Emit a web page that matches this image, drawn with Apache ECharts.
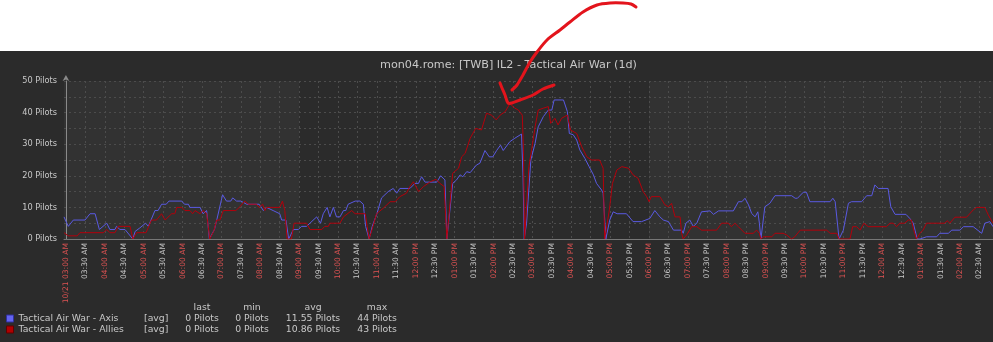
<!DOCTYPE html>
<html><head><meta charset="utf-8">
<script src="https://cdn.jsdelivr.net/npm/echarts@6/dist/echarts.min.js"></script>
<style>html,body{margin:0;padding:0;background:#fff}#c{width:993px;height:342px}</style>
</head><body><div id="c"></div>
<script>
const chartTitle = 'mon04.rome: [TWB] IL2 - Tactical Air War (1d)';
const seriesNames = ['Tactical Air War - Axis', 'Tactical Air War - Allies'];

// hours since 10/21 03:00 AM
const tickHours = [0,0.5,1,1.5,2,2.5,3,3.5,4,4.5,5,5.5,6,6.5,7,7.5,8,8.5,9,9.5,10,10.5,11,11.5,
  12,12.5,13,13.5,14,14.5,15,15.5,16,16.5,17,17.5,18,18.5,19,19.5,20,20.5,21,21.5,22,22.5,23,23.5];
const tickLabels = ['10/21 03:00 AM','03:30 AM','04:00 AM','04:30 AM','05:00 AM','05:30 AM','06:00 AM','06:30 AM',
  '07:00 AM','07:30 AM','08:00 AM','08:30 AM','09:00 AM','09:30 AM','10:00 AM','10:30 AM','11:00 AM','11:30 AM',
  '12:00 PM','12:30 PM','01:00 PM','01:30 PM','02:00 PM','02:30 PM','03:00 PM','03:30 PM','04:00 PM','04:30 PM',
  '05:00 PM','05:30 PM','06:00 PM','06:30 PM','07:00 PM','07:30 PM','08:00 PM','08:30 PM','09:00 PM','09:30 PM',
  '10:00 PM','10:30 PM','11:00 PM','11:30 PM','12:00 AM','12:30 AM','01:00 AM','01:30 AM','02:00 AM','02:30 AM'];
const yTicks = [0, 10, 20, 30, 40, 50];
const timeRange = [-0.05, 23.85];
const nonWorkPeriods = [[-0.05, 6], [15, 23.85]];

const axisTimes = [-0.05,0.06,0.19,0.49,0.62,0.75,0.86,1.05,1.13,1.26,1.3,1.39,1.52,1.72,1.78,1.9,2.05,2.12,2.29,2.37,
  2.46,2.58,2.65,2.98,3.05,3.15,3.19,3.45,3.53,3.62,3.69,3.82,3.88,4.03,4.13,4.24,4.29,4.39,4.5,4.65,4.97,5.08,5.16,
  5.33,5.5,5.55,5.66,5.73,5.85,5.98,6.06,6.19,6.45,6.55,6.62,6.72,6.79,
  6.88,6.96,7.05,7.14,7.2,7.26,7.44,7.56,7.65,7.71,7.8,7.88,8.0,8.12,8.29,8.42,8.51,8.59,8.85,8.98,9.07,9.15,9.24,
  9.54,9.64,9.75,9.8,9.95,10.05,10.14,10.21,10.31,10.4,10.56,10.65,10.78,10.89,10.98,11.08,11.18,11.25,11.42,11.55,
  11.72,11.76,11.79,11.85,11.96,12.07,12.15,12.28,12.41,12.5,12.56,12.8,12.9,12.95,13.05,13.14,13.22,13.35,13.46,
  13.57,13.65,13.78,13.82,13.89,13.99,14.08,14.18,14.42,14.59,14.81,15.02,15.15,15.28,
  15.37,15.5,15.63,15.84,15.88,15.95,16.05,16.14,16.23,16.35,16.57,16.66,16.79,17.17,17.3,17.39,17.47,17.56,17.64,
  17.73,17.8,17.84,17.88,17.98,18.11,18.24,18.67,18.76,18.82,18.97,19.05,19.14,19.66,19.73,19.79,19.89,20.0,20.13,
  20.21,20.47,20.6,20.73,20.81,20.9,21.15,21.22,21.33,21.61,21.71,21.8,21.9,21.97,22.14,22.4,22.48,22.7,22.79,23.0,
  23.09,23.34,23.56,23.64,23.77,23.85];
const axisValues = [7,4,6,6,8,8,3,5,3,3,4,3,3,0,2.4,3.5,5,4,9,9,
  11,11,12,12,11,11,10,10,8,9,0,3,6,14,12,12,13,12,12,11,11,9,10,
  9,8,6,6,0,3,3,4,4,7,5,8,10,7,
  10,7,7,9,9,11,12,12,11,4,0,4,8,13,15,16,14.5,16,16,17.6,17.6,19.7,18,
  18,20,18.7,0,17.6,18.7,20.3,19.7,21.3,21,23.4,24,28,26,26,28,29.7,28,30.8,31.9,
  33.2,19.7,0,5,25,30.3,35.5,38.7,40.8,40.8,44,44,40.3,33.4,33,31.3,28.2,25.5,22.9,
  20.3,17.6,15.5,14.5,0,6,8.6,8,8,5.5,5.5,6.5,9,7,
  6,5.5,2.8,2.8,1.8,5,6,4,5,8.6,8.9,7.8,8.9,8.9,11.8,11.8,12.9,10.8,8.1,
  7,8.6,5,0,10.2,11.3,13.7,13.7,12.9,12.9,14.8,14.8,11.8,11.8,12.9,11.8,0,2.8,11.3,
  11.8,11.8,13.7,13.7,17.1,16,16,10.2,7.8,7.8,6.5,5,0,0,0.7,0.7,1.8,1.8,2.8,2.8,
  3.9,3.9,1.8,5,5.5,3.9];

const alliesTimes = [-0.05,0.06,0.29,0.36,0.96,1.05,1.13,1.26,1.35,1.65,1.72,1.82,2.06,2.2,2.33,2.46,2.55,2.72,2.8,2.85,
  2.98,3.06,3.19,3.26,3.32,3.45,3.53,3.62,3.7,3.8,3.88,3.96,4.05,4.37,4.46,4.6,4.69,4.9,4.97,5.06,5.12,5.16,5.5,5.57,
  5.63,5.69,5.8,5.87,6.19,6.28,6.58,6.66,6.75,6.79,
  7.05,7.14,7.35,7.44,7.7,7.75,7.8,7.9,7.99,8.16,8.34,8.47,8.59,8.76,8.85,8.94,9.07,9.2,9.37,9.52,9.62,9.73,9.8,
  9.95,10.1,10.18,10.27,10.4,10.54,10.69,10.82,10.95,11.07,11.17,11.3,11.42,11.55,11.64,11.74,11.77,11.8,11.91,
  11.98,12.07,12.15,12.28,12.41,12.47,12.58,12.66,12.75,12.9,12.98,13.14,13.27,13.4,13.52,13.73,13.82,13.86,13.98,
  14.06,14.17,14.3,14.47,14.59,14.72,14.85,14.94,15.0,15.06,15.28,
  15.41,15.5,15.58,15.67,15.8,15.84,15.88,15.97,16.1,16.23,16.35,16.74,16.87,17.04,17.12,17.21,17.3,17.47,17.68,
  17.77,17.84,17.88,17.94,18.16,18.24,18.45,18.54,18.67,18.75,18.89,19.57,19.66,19.83,19.89,20.17,20.24,20.34,20.43,
  20.53,20.64,21.11,21.2,21.28,21.37,21.45,21.58,21.67,21.75,21.81,21.88,21.97,22.05,22.14,22.61,22.67,22.74,22.87,
  23.17,23.34,23.43,23.64,23.73,23.85];
const alliesValues = [2,1,1,2,2,3,2,2,4,4,0,2,2,6,6,8,6,8,8,10,
  10,9,9,8,9,8,9,8,0,2.4,6,6,9,9,10,12,11,11,10,11,9,10,10,12,
  9,0,0,5,5,3,3,4,4,5,
  5,7,9,8,8,4,0,4,8,9.7,11.8,11.8,13.4,14.5,16.6,18.1,15,16.6,18.1,18.9,17.6,16.6,0,
  20.8,22.4,26,27.1,31.9,35,34.5,39.8,39.2,37.7,39.2,40.3,42.8,41.4,40.8,39.2,28.2,0,22.9,
  28.2,35.5,40.8,41.4,41.9,36.6,38.2,36.1,38.2,39.2,34.5,33.4,29.2,26,25,25,22.4,0,9.2,
  17.6,21.8,22.9,22.4,20.3,19.2,15,13.4,11.8,13.4,13.4,
  10.8,10.2,11.3,7,7,1.8,0,1.3,3.9,3.9,2.8,2.8,5,5,3.9,5,3.9,1.8,1.8,
  2.8,1.8,0,0.7,0.7,1.8,1.8,1.3,0,0.7,2.8,2.8,1.8,1.8,0,0,3.9,3.9,2.8,
  5,3.9,3.9,5,5,3.9,5,5,6,6,2.8,0,1.8,2.8,5,5,5.8,5,6.9,
  6.9,9.2,10,10,7.6,5];

const statHeaders = ['last', 'min', 'avg', 'max'];
const statFunc = '[avg]';
const axisStats = ['0 Pilots', '0 Pilots', '11.55 Pilots', '44 Pilots'];
const alliesStats = ['0 Pilots', '0 Pilots', '10.86 Pilots', '43 Pilots'];

const FONT = 'DejaVu Sans';
const TXT = '#c8c8c8';
const RED_LBL = '#dc5252';
const AXIS_COL = '#5a5ae2';
const ALLIES_COL = '#b3000c';

const zip = (a, b) => a.map((t, i) => [t, b[i]]);

const statCols = [202, 252, 313, 377];
const rowsY = [307.5, 318.5, 329.5];
const graphics = [];
statHeaders.forEach((h, i) => graphics.push({type:'text', x: statCols[i], y: rowsY[0],
  style:{text:h, fill:TXT, font:'9.3px "DejaVu Sans"', textAlign:'center', textVerticalAlign:'middle'}}));
[axisStats, alliesStats].forEach((row, r) => {
  graphics.push({type:'text', x:144, y: rowsY[r+1], style:{text:statFunc, fill:TXT, font:'9.3px "DejaVu Sans"', textAlign:'left', textVerticalAlign:'middle'}});
  row.forEach((s, i) => graphics.push({type:'text', x: statCols[i], y: rowsY[r+1],
    style:{text:s, fill:TXT, font:'9.3px "DejaVu Sans"', textAlign:'center', textVerticalAlign:'middle'}}));
});
// hand-drawn annotation arrow
graphics.push({type:'polyline', z:100, shape:{smooth:0.3, points:[[636,7],[631,4],[623,3],[610,3],[597,5],[583,12],[570,22],[560,30],[547,40],[537,52],[530,62],[523,75],[517,85],[512,90]]},
  style:{stroke:'#e3141c', lineWidth:3, fill:null, lineCap:'round', lineJoin:'round'}});
graphics.push({type:'polyline', z:100, shape:{smooth:0.3, points:[[500,83],[502,88],[505,95],[508,103],[512,103],[520,100],[533,95],[543,89],[554,85]]},
  style:{stroke:'#e3141c', lineWidth:3, fill:null, lineCap:'round', lineJoin:'round'}});

const chart = echarts.init(document.getElementById('c'));
chart.setOption({
  animation: false,
  backgroundColor: {type:'linear', x:0, y:0, x2:0, y2:1, colorStops:[
    {offset:0, color:'#ffffff'}, {offset:51.5/342, color:'#ffffff'},
    {offset:51.5/342, color:'#2b2b2b'}, {offset:1, color:'#2b2b2b'}]},
  title: {text: chartTitle, left: 508.5, top: 60, padding: 0, textAlign: 'center',
    textStyle: {color: TXT, fontSize: 11.2, fontWeight: 'normal', fontFamily: FONT}},
  grid: {left: 64, right: 0, top: 81, bottom: 103},
  legend: {orient:'vertical', left:6, top:313, padding:0, itemWidth:7, itemHeight:7, itemGap:0, icon:'rect',
    selectedMode:false,
    textStyle:{color:TXT, fontSize:9.3, fontFamily:FONT, lineHeight:11},
    data:[{name:seriesNames[0], itemStyle:{color:'#6464f0', borderColor:'#3030a0', borderWidth:1}},
          {name:seriesNames[1], itemStyle:{color:'#b00000', borderColor:'#600000', borderWidth:1}}]},
  xAxis: {type:'value', min: timeRange[0], max: timeRange[1], z: 2,
    axisLine:{show:true, onZero:false, lineStyle:{color:'#777777'}},
    axisTick:{show:false, customValues: tickHours},
    splitLine:{show:true, lineStyle:{color:'#4c4c4c', type:[2,3]}},
    axisLabel:{customValues: tickHours, rotate:90, margin:4, fontSize:7.6, fontFamily:FONT,
      color: (v) => (Math.abs(Number(v) % 1) < 1e-6 ? RED_LBL : TXT),
      formatter: (v) => { const i = tickHours.findIndex(t => Math.abs(t - v) < 1e-6); return i >= 0 ? tickLabels[i] : ''; }}},
  yAxis: {type:'value', min:0, max:50, interval:5, z: 2,
    axisLine:{show:true, symbol:['none','arrow'], symbolSize:[5,6], symbolOffset:[0,6], lineStyle:{color:'#8a8a8a'}},
    axisTick:{show:false},
    splitLine:{show:true, lineStyle:{color:'#4c4c4c', type:[2,3]}},
    axisLabel:{margin:7, fontSize:8.2, fontFamily:FONT, color:TXT,
      formatter: (v) => (yTicks.includes(v) ? v + ' Pilots' : '')}},
  graphic: graphics,
  series: [
    {name: seriesNames[0], type:'line', z:3, showSymbol:false, data: zip(axisTimes, axisValues),
      lineStyle:{color:AXIS_COL, width:1}, itemStyle:{color:AXIS_COL},
      markArea:{silent:true, z:1, itemStyle:{color:'#323232'},
        data: nonWorkPeriods.map(p => [{xAxis:p[0]}, {xAxis:p[1]}])}},
    {name: seriesNames[1], type:'line', z:4, showSymbol:false, data: zip(alliesTimes, alliesValues),
      lineStyle:{color:ALLIES_COL, width:1}, itemStyle:{color:ALLIES_COL}}
  ]
});
</script></body></html>
